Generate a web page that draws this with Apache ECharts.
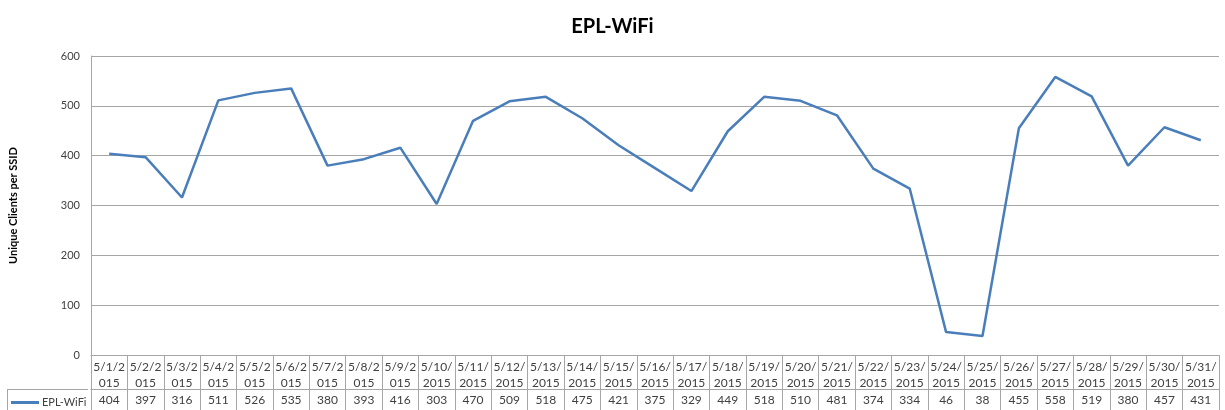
<!DOCTYPE html>
<html>
<head>
<meta charset="utf-8">
<script src="https://cdn.jsdelivr.net/npm/echarts@6/dist/echarts.min.js"></script>
<style>
  html, body { margin: 0; padding: 0; background: #fff; }
  #chart { width: 1225px; height: 410px; }
</style>
</head>
<body>
<div id="chart"></div>
<script>
const dates = [
  "5/1/2015", "5/2/2015", "5/3/2015", "5/4/2015", "5/5/2015", "5/6/2015", "5/7/2015", "5/8/2015",
  "5/9/2015", "5/10/2015", "5/11/2015", "5/12/2015", "5/13/2015", "5/14/2015", "5/15/2015",
  "5/16/2015", "5/17/2015", "5/18/2015", "5/19/2015", "5/20/2015", "5/21/2015", "5/22/2015",
  "5/23/2015", "5/24/2015", "5/25/2015", "5/26/2015", "5/27/2015", "5/28/2015", "5/29/2015",
  "5/30/2015", "5/31/2015"
]
const wifiClients = [
  404, 397, 316, 511, 526, 535, 380, 393, 416, 303, 470, 509, 518, 475, 421,
  375, 329, 449, 518, 510, 481, 374, 334, 46, 38, 455, 558, 519, 380, 457, 431
]
const yTicks = { min: 0, max: 600, interval: 100 }

const font = "Lato, 'Open Sans', sans-serif"
const border = "#a6a6a6"
const text = "#404040"

const chart = echarts.init(document.getElementById("chart"), null, { renderer: "canvas" })

chart.setOption({
  animation: false,
  backgroundColor: "#fff",
  textStyle: { fontFamily: font },
  title: {
    text: "EPL-WiFi",
    left: "center",
    top: 12,
    textStyle: { fontSize: 20, fontWeight: "bold", color: "#000", fontFamily: font },
  },
  grid: { left: 88, right: 6, top: 56, bottom: 55, containLabel: false },
  legend: {
    left: 6,
    top: 392,
    icon: "rect",
    itemWidth: 28,
    itemHeight: 3,
    itemGap: 5,
    textStyle: { fontSize: 11, color: text, fontFamily: font, padding: [0, 0, 0, -2] },
    data: ["EPL-WiFi"],
  },
  xAxis: [
    {
      type: "category",
      position: "bottom",
      boundaryGap: true,
      data: dates,
      axisLine: { lineStyle: { color: border, width: 1 } },
      axisTick: { show: true, interval: 0, length: 34, lineStyle: { color: border } },
      axisLabel: {
        interval: 0,
        margin: 4,
        fontSize: 12,
        lineHeight: 16,
        color: text,
        fontFamily: font,
        formatter: (d) => d.slice(0, 5) + "\n" + d.slice(5),
      },
    },
    {
      type: "category",
      position: "bottom",
      offset: 34,
      boundaryGap: true,
      data: wifiClients.map(String),
      axisLine: { lineStyle: { color: border, width: 1 } },
      axisTick: { show: true, interval: 0, length: 22, lineStyle: { color: border } },
      axisLabel: { interval: 0, margin: 5, fontSize: 12, color: text, fontFamily: font },
    },
  ],
  yAxis: {
    type: "value",
    min: yTicks.min,
    max: yTicks.max,
    interval: yTicks.interval,
    name: "Unique Clients per SSID",
    nameLocation: "middle",
    nameGap: 72,
    nameTextStyle: { fontSize: 11, fontWeight: "bold", color: "#000", fontFamily: font },
    axisLine: { show: true, lineStyle: { color: border } },
    axisTick: { show: false },
    axisLabel: { fontSize: 11, color: text, margin: 11, fontFamily: font },
    splitLine: { lineStyle: { color: border, width: 1 } },
  },
  graphic: [
    { type: "line", shape: { x1: 7, y1: 389.5, x2: 88, y2: 389.5 }, style: { stroke: border, lineWidth: 1 } },
    { type: "line", shape: { x1: 7.5, y1: 389, x2: 7.5, y2: 410 }, style: { stroke: border, lineWidth: 1 } },
  ],
  series: [
    {
      name: "EPL-WiFi",
      type: "line",
      xAxisIndex: 0,
      data: wifiClients,
      symbol: "none",
      lineStyle: { color: "#4a7ebb", width: 2.5 },
      itemStyle: { color: "#4a7ebb" },
    },
  ],
})
</script>
</body>
</html>
